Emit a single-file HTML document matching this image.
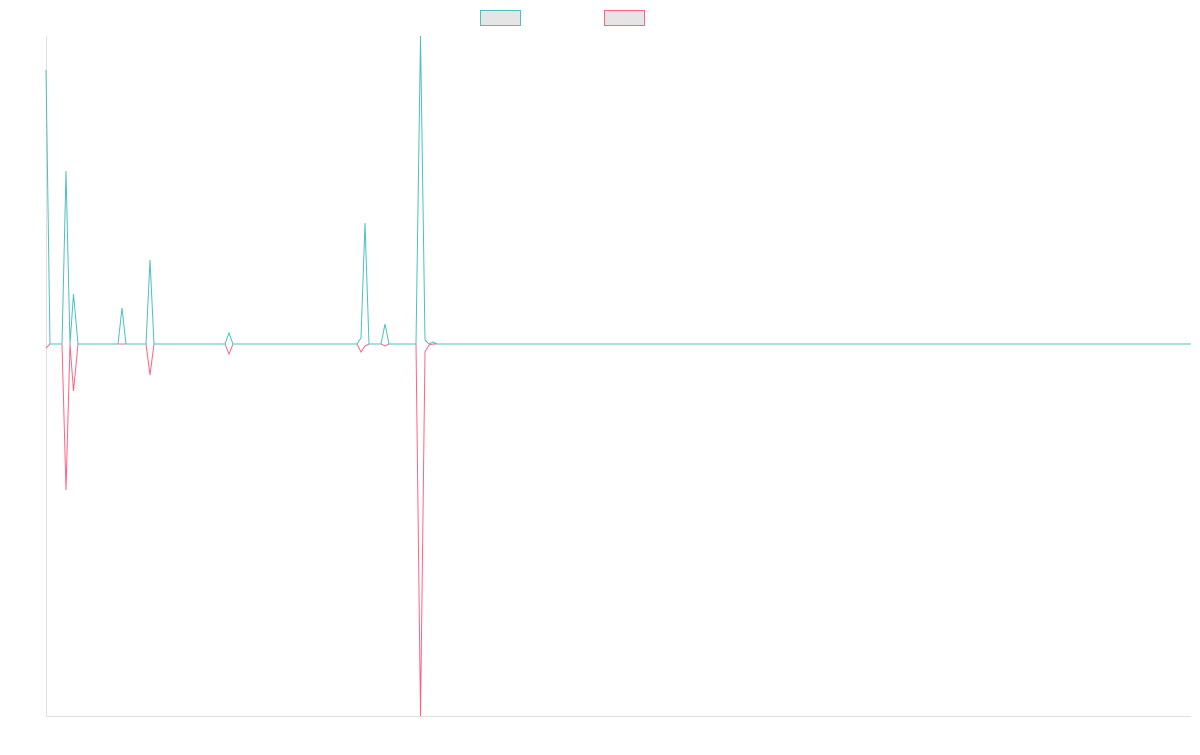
<!DOCTYPE html>
<html><head><style>body{margin:0;background:#fff}</style></head><body>
<svg width="1200" height="750" xmlns="http://www.w3.org/2000/svg">
<rect x="480.5" y="10.5" width="40" height="15" fill="#e5e5e5" stroke="#4bc0c0" stroke-width="1"/>
<rect x="604.5" y="10.5" width="40" height="15" fill="#e5e5e5" stroke="#ff6384" stroke-width="1"/>
<line x1="46.5" y1="36" x2="46.5" y2="716" stroke="#e0e0e0"/>
<line x1="46" y1="716.5" x2="1191" y2="716.5" stroke="#e0e0e0"/>
<polyline fill="none" stroke="#ff6384" stroke-width="1" points="46,348 50,344 62,344 66,490 70,344 73.5,391 78,344 146,344 150,375 154,344 225,344 229,354 233,344 357,344 361,352 365,346 369,344 381,344 385,346 389,344 416,344 420.5,716 425,352 429,345 433,344 1191,344"/>
<polyline fill="none" stroke="#4bc0c0" stroke-width="1" points="46,70 50,344 62,344 66,171 70,344 73.5,294 78,344 118,344 122,308 126,344 146,344 150,260 154,344 225,344 229,333 233,344 357,344 361,338 365,223 369,344 381,344 385,324 389,344 416,344 420.5,36 425,340 429,344 433,342 437,344 1191,344"/>
</svg>
</body></html>
